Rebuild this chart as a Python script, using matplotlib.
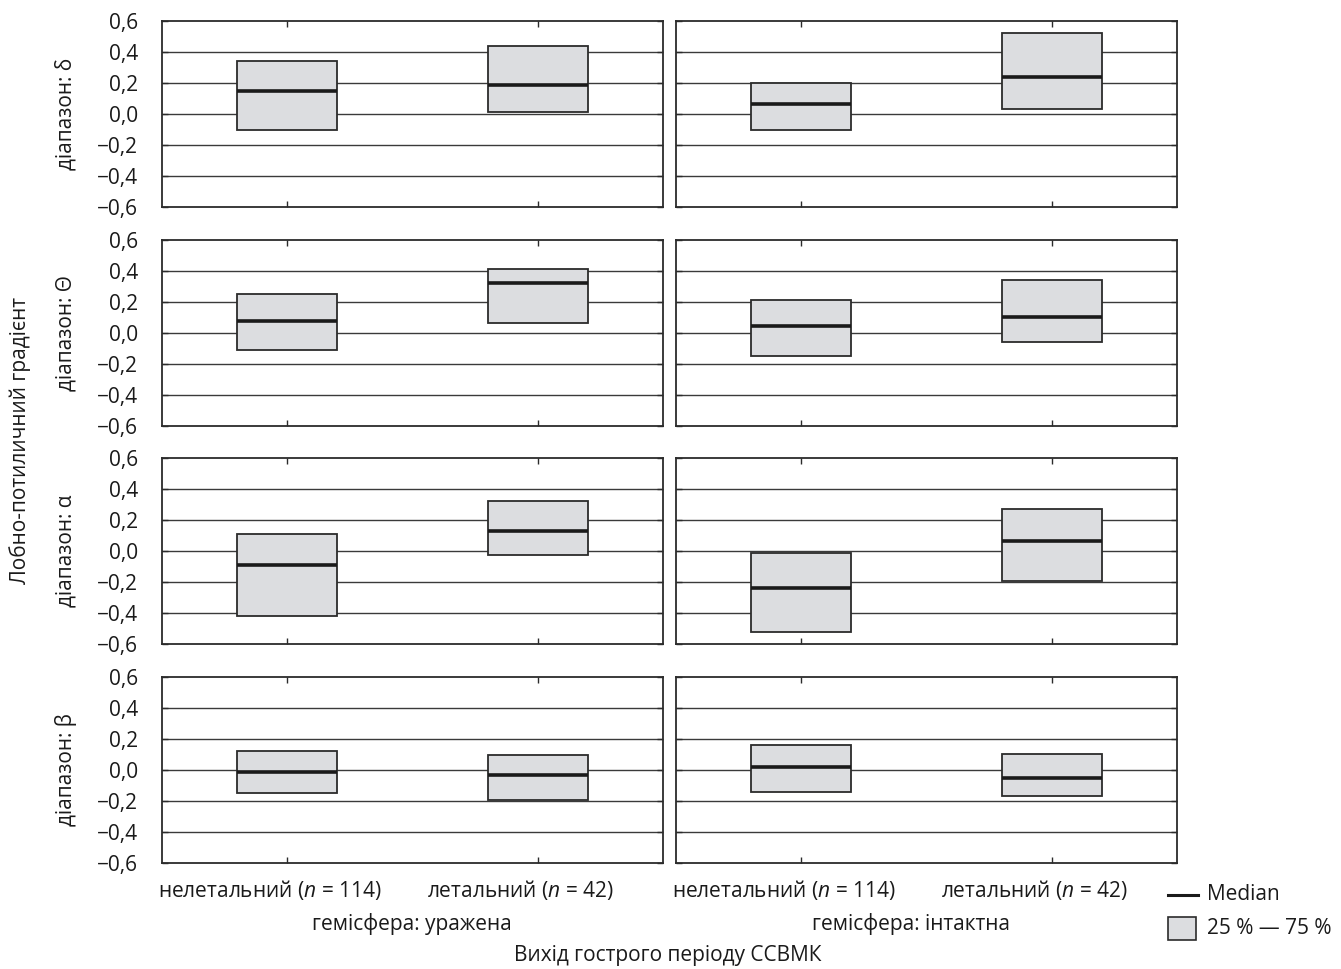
import matplotlib
matplotlib.use("Agg")
import matplotlib.pyplot as plt
import matplotlib.transforms as mtransforms
from matplotlib.patches import Rectangle
from matplotlib.lines import Line2D

plt.rcParams['font.family'] = ['Open Sans', 'DejaVu Sans']
plt.rcParams['mathtext.fontset'] = 'custom'
plt.rcParams['mathtext.it'] = 'Open Sans:italic'
plt.rcParams['mathtext.rm'] = 'Open Sans'

# groups on the x axis, hemispheres (columns), EEG bands (rows)
groups = ['нелетальний ($\\it{n}$ = 114)', 'летальний ($\\it{n}$ = 42)']
hemispheres = ['гемісфера: уражена', 'гемісфера: інтактна']
bands = ['діапазон: δ', 'діапазон: Θ', 'діапазон: α', 'діапазон: β']

# [band][hemisphere][group]
q25 = [
    [[-0.10, 0.015], [-0.10, 0.035]],
    [[-0.11, 0.065], [-0.15, -0.06]],
    [[-0.42, -0.025], [-0.52, -0.195]],
    [[-0.15, -0.195], [-0.14, -0.165]],
]
median = [
    [[0.15, 0.19], [0.065, 0.24]],
    [[0.08, 0.32], [0.045, 0.105]],
    [[-0.09, 0.13], [-0.24, 0.065]],
    [[-0.01, -0.03], [0.022, -0.05]],
]
q75 = [
    [[0.34, 0.44], [0.20, 0.52]],
    [[0.25, 0.415], [0.21, 0.34]],
    [[0.11, 0.325], [-0.015, 0.27]],
    [[0.125, 0.10], [0.16, 0.105]],
]

yticks = [-0.6, -0.4, -0.2, 0.0, 0.2, 0.4, 0.6]
ytick_labels = ['−0,6', '−0,4', '−0,2', '0,0', '0,2', '0,4', '0,6']

W, H = 1341, 969
fig = plt.figure(figsize=(W / 100, H / 100), dpi=100)

row_tops = [21, 240, 458, 677]
row_h = 186
col_lefts = [162, 676]
col_w = 501

box_face = '#dcdde0'
edge = '#2b2b2b'
txt = '#1a1a1a'
fs = 15

label_shift = mtransforms.ScaledTranslation(-17 / 100, 0, fig.dpi_scale_trans)

for r, band in enumerate(bands):
    for c in range(2):
        ax = fig.add_axes([col_lefts[c] / W, 1 - (row_tops[r] + row_h) / H,
                           col_w / W, row_h / H])
        ax.set_xlim(0, 2)
        ax.set_ylim(-0.6, 0.6)
        for y in yticks[1:-1]:
            ax.axhline(y, color='#3a3a3a', lw=1.0, zorder=1)
        pos = [0.5, 1.5]
        bw = 0.4
        for g in range(2):
            lo = q25[r][c][g]
            hi = q75[r][c][g]
            ax.add_patch(Rectangle((pos[g] - bw / 2, lo), bw, hi - lo,
                                   facecolor=box_face, edgecolor=edge,
                                   lw=1.3, zorder=3))
            ax.plot([pos[g] - bw / 2, pos[g] + bw / 2],
                    [median[r][c][g]] * 2, color=txt, lw=2.6,
                    solid_capstyle='butt', zorder=4)
        ax.set_yticks(yticks)
        ax.set_xticks(pos)
        ax.tick_params(axis='both', direction='in', length=4, width=1,
                       color=edge, top=True, right=True, labelsize=fs,
                       labelcolor=txt)
        ax.tick_params(axis='y', pad=17)
        if c == 0:
            ax.set_yticklabels(ytick_labels)
        else:
            ax.set_yticklabels([])
        if r == len(bands) - 1:
            ax.set_xticklabels(groups, fontsize=fs)
            ax.tick_params(axis='x', pad=11)
            for lbl in ax.get_xticklabels():
                lbl.set_transform(lbl.get_transform() + label_shift)
        else:
            ax.set_xticklabels([])
        for s in ax.spines.values():
            s.set_color(edge)
            s.set_linewidth(1.3)
    fig.text(66 / W, 1 - (row_tops[r] + row_h / 2) / H, band, rotation=90,
             ha='center', va='center', fontsize=fs, color=txt)

fig.text(20 / W, 1 - 441 / H, 'Лобно-потиличний градієнт', rotation=90,
         ha='center', va='center', fontsize=fs, color=txt)
fig.text(412 / W, 1 - 924 / H, hemispheres[0], ha='center', va='center',
         fontsize=fs, color=txt)
fig.text(911 / W, 1 - 924 / H, hemispheres[1], ha='center', va='center',
         fontsize=fs, color=txt)
fig.text(668 / W, 1 - 956 / H, 'Вихід гострого періоду ССВМК', ha='center',
         va='center', fontsize=fs, color=txt)

# legend in figure pixel coordinates
lax = fig.add_axes([0, 0, 1, 1], zorder=-1)
lax.set_xlim(0, W)
lax.set_ylim(H, 0)
lax.axis('off')
lax.add_line(Line2D([1168, 1198], [895, 895], color=txt, lw=2.2))
lax.text(1207, 895, 'Median', ha='left', va='center', fontsize=fs,
         color=txt)
lax.add_patch(Rectangle((1168, 917), 28, 23, facecolor=box_face,
                        edgecolor=edge, lw=1.2))
lax.text(1207, 928, '25 % — 75 %', ha='left', va='center', fontsize=fs,
         color=txt)

fig.savefig('out.png', dpi=100)
